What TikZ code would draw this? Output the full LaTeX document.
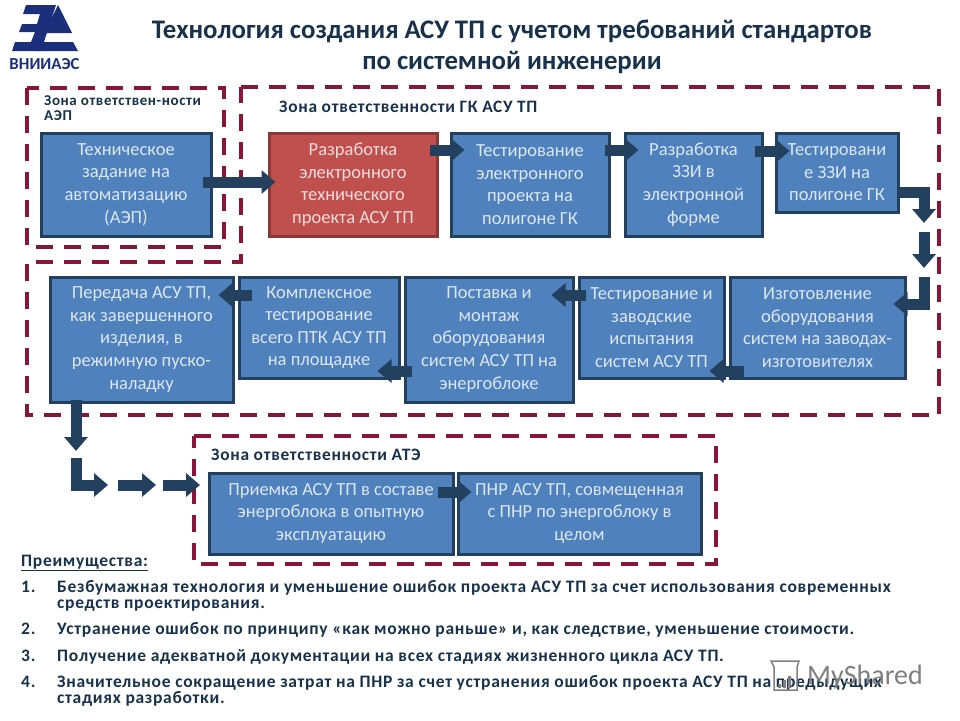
\documentclass[tikz,border=0pt]{standalone}
\usepackage{fontspec}
\setmainfont{Carlito}
\newfontfamily\zonefont{Carlito}[LetterSpace=4]
\usetikzlibrary{arrows.meta}

\definecolor{boxblue}{HTML}{4F81BD}
\definecolor{boxline}{HTML}{23415F}
\definecolor{boxtext}{HTML}{DCE6F2}
\definecolor{redfill}{HTML}{C0504D}
\definecolor{redline}{HTML}{8C3836}
\definecolor{redtext}{HTML}{F2DCDB}
\definecolor{zonered}{HTML}{8A1538}
\definecolor{arrowblue}{HTML}{24405F}
\definecolor{titleblue}{HTML}{17324A}
\definecolor{logoblue}{HTML}{1B2F7A}
\definecolor{markgrey}{HTML}{7F7F7F}

\tikzset{
    blockbox/.style={draw=boxline, fill=boxblue, line width=3pt, text=boxtext, align=center,
        inner sep=0pt, font=\fontsize{18.5}{22.6}\selectfont},
    redbox/.style={blockbox, draw=redline, fill=redfill, text=redtext},
    zoneline/.style={draw=zonered, line width=4pt, dash pattern=on 17pt off 11pt},
    zonelabel/.style={anchor=base west, align=left, inner sep=0pt, text=titleblue,
        font=\fontsize{17.4}{15}\zonefont\bfseries},
    flowarrow/.style={draw=arrowblue, line width=11pt, -{Triangle[length=14pt,width=23pt]}},
    advtext/.style={anchor=base west, align=left, inner sep=0pt, text=titleblue,
        font=\fontsize{17.5}{16}\zonefont\bfseries},
}

\begin{document}
\begin{tikzpicture}[x=1pt, y=-1pt]
    \useasboundingbox (0,0) rectangle (960,720);

    % logo
    \fill[logoblue] (26,5) -- (56,5) -- (41,51) -- (12,51) -- (15,42) -- (31,42) -- (35,32)
        -- (19,32) -- (22,24) -- (37,24) -- (40,14) -- (23,14) -- cycle;
    \fill[logoblue] (58,5) -- (72,33) -- (44,33) -- cycle;
    \fill[logoblue] (40,42) -- (73,42) -- (78,51) -- (37,51) -- cycle;
    \node[anchor=base, inner sep=0pt, text=logoblue, font=\fontsize{16.8}{17}\selectfont\bfseries] (logotext) at (44.5,69) {ВНИИАЭС};

    % title
    \node[anchor=base, align=center, inner sep=0pt, text=titleblue, font=\fontsize{26.8}{31}\selectfont\bfseries] (title) at (512,69)
        {Технология создания АСУ ТП с учетом требований стандартов\\по системной инженерии};

    % zones
    \draw[zoneline] (27,88) rectangle (224,247);
    \draw[zoneline] (241,87) -- (939,87) -- (939,415) -- (27,415) -- (27,262) -- (241,262) -- cycle;
    \draw[zoneline] (194,436) -- (716,436) -- (716,564) -- (194,564) -- cycle;

    \node[zonelabel, font=\fontsize{15}{15}\zonefont\bfseries] (zoneaep) at (44,120) {Зона ответствен-ности\\АЭП};
    \node[zonelabel] (zonegk) at (279,112) {Зона ответственности ГК АСУ ТП};
    \node[zonelabel] (zoneate) at (211,460) {Зона ответственности АТЭ};

    % first row
    \node[blockbox, minimum width=170, minimum height=103] (aep) at (126,184.5) {Техническое\\задание на\\автоматизацию\\(АЭП)};
    \node[redbox, minimum width=168, minimum height=103] (razrab) at (353,184.5) {Разработка\\электронного\\технического\\проекта АСУ ТП};
    \node[blockbox, minimum width=158, minimum height=103] (testproj) at (530,184.5) {Тестирование\\электронного\\проекта на\\полигоне ГК};
    \node[blockbox, minimum width=137, minimum height=103] (zzi) at (693.5,184.5) {Разработка\\ЗЗИ в\\электронной\\форме};
    \node[blockbox, minimum width=122, minimum height=79] (testzzi) at (837,172.5) {Тестировани\\е ЗЗИ на\\полигоне ГК};

    % second row
    \node[blockbox, minimum width=175, minimum height=101] (izgot) at (817.5,327.5) {Изготовление\\оборудования\\систем на заводах-\\изготовителях};
    \node[blockbox, minimum width=145, minimum height=101] (testzav) at (651.5,327.5) {Тестирование и\\заводские\\испытания\\систем АСУ ТП};
    \node[blockbox, minimum width=168, minimum height=125] (montazh) at (489,339.5) {Поставка и\\монтаж\\оборудования\\систем АСУ ТП на\\энергоблоке};
    \node[blockbox, minimum width=160, minimum height=101] (kompl) at (319,327.5) {Комплексное\\тестирование\\всего ПТК АСУ ТП\\на площадке};
    \node[blockbox, minimum width=183, minimum height=125] (peredacha) at (141.5,339.5) {Передача АСУ ТП,\\как завершенного\\изделия, в\\режимную пуско-\\наладку};

    % third row
    \node[blockbox, minimum width=244, minimum height=81] (priemka) at (331,513.5) {Приемка АСУ ТП в составе\\энергоблока в опытную\\эксплуатацию};
    \node[blockbox, minimum width=243, minimum height=81] (pnr) at (579.5,513.5) {ПНР АСУ ТП, совмещенная\\с ПНР по энергоблоку в\\целом};

    % free ends of the broken arrows
    \coordinate (turna) at (924,223);
    \coordinate (downa) at (924,232);
    \coordinate (downb) at (924,268);
    \coordinate (elbowa) at (924,277);
    \coordinate (dropa) at (76,451);
    \coordinate (elbowb) at (76,458);
    \coordinate (elbowc) at (108,485);
    \coordinate (stepa) at (118,485);
    \coordinate (stepb) at (156,485);
    \coordinate (stepc) at (163,485);
    \coordinate (stepd) at (200,485);

    % arrows
    \draw[flowarrow] ([shift={(-10,-2.5)}]aep.east) -- ([shift={(8,-2.5)}]razrab.west);
    \draw[flowarrow] ([shift={(-9,-34.5)}]razrab.east) -- ([shift={(15,-34.5)}]testproj.west);
    \draw[flowarrow] ([shift={(-6,-34.5)}]testproj.east) -- ([shift={(15,-34.5)}]zzi.west);
    \draw[flowarrow] ([shift={(-9,-33.5)}]zzi.east) -- ([shift={(15,-21.5)}]testzzi.west);
    \draw[flowarrow] ([shift={(-3,19.5)}]testzzi.east) -| (turna);
    \draw[flowarrow] (downa) -- (downb);
    \draw[flowarrow] (elbowa) |- ([shift={(-13,-23.5)}]izgot.east);
    \draw[flowarrow] ([shift={(15,43.5)}]izgot.west) -- ([shift={(-16,43.5)}]testzav.east);
    \draw[flowarrow] ([shift={(8,-32.5)}]testzav.west) -- ([shift={(-23,-44.5)}]montazh.east);
    \draw[flowarrow] ([shift={(8,31.5)}]montazh.west) -- ([shift={(-23,43.5)}]kompl.east);
    \draw[flowarrow] ([shift={(14,-32.5)}]kompl.west) -- ([shift={(-16,-44.5)}]peredacha.east);
    \draw[flowarrow] ([yshift=4pt]peredacha.south -| dropa) -- (dropa);
    \draw[flowarrow] (elbowb) |- (elbowc);
    \draw[flowarrow] (stepa) -- (stepb);
    \draw[flowarrow] (stepc) -- (stepd);
    \draw[flowarrow] ([shift={(-17,-21.5)}]priemka.east) -- ([shift={(15,-21.5)}]pnr.west);

    % list under the chart
    \node[advtext] (advhead) at (21,566) {\underline{Преимущества:}};
    \node[advtext] (numa) at (21,592) {1.};
    \node[advtext] (adva) at (57,608) {Безбумажная технология и уменьшение ошибок проекта АСУ ТП за счет использования современных\\средств проектирования.};
    \node[advtext] (numb) at (21,634) {2.};
    \node[advtext] (advb) at (57,634) {Устранение ошибок по принципу «как можно раньше» и, как следствие, уменьшение стоимости.};
    \node[advtext] (numc) at (21,661) {3.};
    \node[advtext] (advc) at (57,661) {Получение адекватной документации на всех стадиях жизненного цикла АСУ ТП.};
    \node[advtext] (numd) at (21,687) {4.};
    \node[advtext] (advd) at (57,703) {Значительное сокращение затрат на ПНР за счет устранения ошибок проекта АСУ ТП на предыдущих\\стадиях разработки.};

    % watermark
    \node[anchor=base west, inner sep=0pt, text=markgrey, font=\fontsize{28}{28}\selectfont] (mark) at (807,684) {MyShared};
    \draw[markgrey, line width=1.5pt] (771,661) -- (799,661) -- (797,667) -- (797,690) -- (774,690) -- (774,667) -- cycle;
    \fill[markgrey] (778,684) rectangle (781,688) (783,680) rectangle (786,688) (788,676) rectangle (791,688);
\end{tikzpicture}
\end{document}
